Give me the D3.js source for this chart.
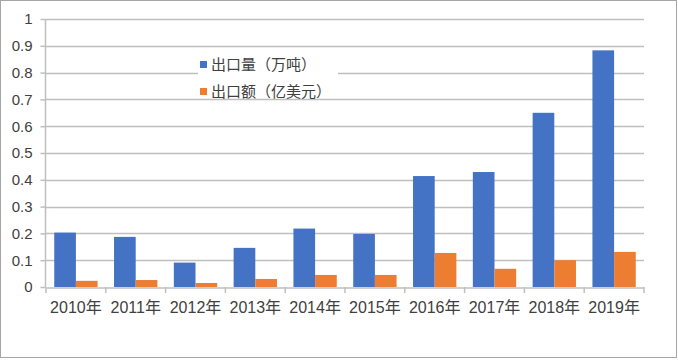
<!DOCTYPE html>
<html><head><meta charset="utf-8">
<script src="https://cdn.jsdelivr.net/npm/d3@7/dist/d3.min.js"></script>
<style>body{margin:0;background:#fff}svg{display:block}</style>
</head><body><svg id="c" width="678" height="360"></svg>
<script>
const categories = ["2010年","2011年","2012年","2013年","2014年","2015年","2016年","2017年","2018年","2019年"];
const seriesNames = ["出口量（万吨）","出口额（亿美元）"];
const volume = [0.203,0.187,0.091,0.146,0.218,0.198,0.414,0.429,0.650,0.883];
const value  = [0.023,0.026,0.015,0.030,0.045,0.045,0.127,0.068,0.100,0.131];
const yTicks = [0,0.1,0.2,0.3,0.4,0.5,0.6,0.7,0.8,0.9,1];
const colors = ["#4472C4","#ED7D31"];

const svg = d3.select("#c");
const font = "'Liberation Sans','Noto Sans CJK SC',sans-serif";
svg.append("rect").attr("x",0.5).attr("y",0.5).attr("width",676).attr("height",357)
  .attr("fill","#fff").attr("stroke","#a6a6a6");

const x = d3.scaleBand().domain(categories).range([46,644]).paddingInner(0).paddingOuter(0);
const y = d3.scaleLinear().domain([0,1]).range([287,19]);
const inner = d3.scaleBand().domain([0,1]).range([0,x.bandwidth()]).paddingInner(0).paddingOuter(0.38);

// gridlines
svg.append("g").selectAll("line").data(yTicks.slice(1)).join("line")
  .attr("x1",46).attr("x2",644).attr("y1",d=>Math.round(y(d))+0.5).attr("y2",d=>Math.round(y(d))+0.5)
  .attr("stroke","#bfbfbf").attr("stroke-width",1.5);

// y axis
const ya = svg.append("g").attr("transform","translate(45.5,0)")
  .call(d3.axisLeft(y).tickValues(yTicks).tickFormat(d=>d===0?"0":(d===1?"1":d3.format(".1f")(d))).tickSize(5).tickPadding(8));
ya.select(".domain").attr("stroke","#bfbfbf").attr("stroke-width",1.5).attr("d","M0,19V287");
ya.selectAll(".tick line").attr("stroke","#bfbfbf").attr("stroke-width",1.5);
ya.selectAll("text").attr("fill","#404040").style("font-size","15px").style("font-family",font);

// bars
const data = [volume,value];
data.forEach((arr,si)=>{
  svg.append("g").selectAll("rect").data(arr).join("rect")
    .attr("x",(d,i)=>x(categories[i])+inner(si))
    .attr("width",inner.bandwidth())
    .attr("y",d=>y(d)).attr("height",d=>y(0)-y(d))
    .attr("fill",colors[si]);
});

// x axis
const xa = svg.append("g").attr("transform","translate(0,287.5)")
  .call(d3.axisBottom(x).tickSize(0).tickPadding(14));
xa.select(".domain").attr("stroke","#bfbfbf").attr("stroke-width",1.5);
xa.selectAll("text").attr("fill","#404040").style("font-size","16px").style("font-family",font);
svg.append("g").selectAll("line").data(categories.concat(["end"])).join("line")
  .attr("x1",(d,i)=>46+i*x.bandwidth()).attr("x2",(d,i)=>46+i*x.bandwidth())
  .attr("y1",287).attr("y2",293).attr("stroke","#bfbfbf").attr("stroke-width",1.5);

// legend
const lg = svg.append("g");
lg.append("rect").attr("x",198).attr("y",54).attr("width",140).attr("height",44).attr("fill","#fff");
seriesNames.forEach((n,i)=>{
  lg.append("rect").attr("x",200).attr("y",61+i*27).attr("width",7).attr("height",7).attr("fill",colors[i]);
  lg.append("text").attr("x",211).attr("y",70+i*27).text(n)
    .attr("fill","#404040").style("font-size","15px").style("font-family","'Noto Sans CJK SC',sans-serif");
});
</script></body></html>
